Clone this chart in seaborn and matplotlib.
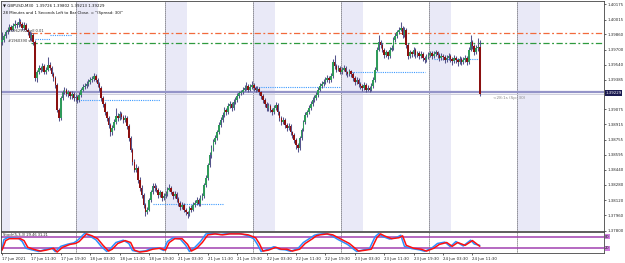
import matplotlib
matplotlib.use("Agg")
import matplotlib.pyplot as plt
import numpy as np
import pandas as pd
import seaborn as sns

sns.set_style("white")
plt.rcParams["font.family"] = ["DejaVu Sans"]

# GBPUSD M30 candles, 17 Jun 03:30 .. 24 Jun 14:00
open_ = [1.3978,
    1.3980, 1.3984, 1.3988, 1.3991, 1.3994, 1.3991, 1.3995, 1.3997, 1.3996, 1.3999,
    1.3997, 1.3993, 1.3996, 1.3991, 1.3988, 1.3982, 1.3985, 1.3978, 1.3940, 1.3946,
    1.3951, 1.3949, 1.3953, 1.3946, 1.3949, 1.3954, 1.3951, 1.3944, 1.3940, 1.3933,
    1.3907, 1.3898, 1.3919, 1.3925, 1.3928, 1.3923, 1.3925, 1.3921, 1.3923, 1.3919,
    1.3920, 1.3917, 1.3922, 1.3928, 1.3931, 1.3932, 1.3934, 1.3936, 1.3938, 1.3939,
    1.3942, 1.3938, 1.3934, 1.3930, 1.3919, 1.3913, 1.3904, 1.3898, 1.3891, 1.3883,
    1.3888, 1.3894, 1.3900, 1.3898, 1.3902, 1.3899, 1.3896, 1.3898, 1.3890, 1.3877,
    1.3865, 1.3852, 1.3844, 1.3846, 1.3833, 1.3825, 1.3817, 1.3807, 1.3799, 1.3802,
    1.3812, 1.3820, 1.3827, 1.3825, 1.3823, 1.3817, 1.3820, 1.3814, 1.3816, 1.3818,
    1.3823, 1.3825, 1.3820, 1.3816, 1.3818, 1.3813, 1.3809, 1.3805, 1.3807, 1.3802,
    1.3799, 1.3797, 1.3804, 1.3802, 1.3807, 1.3809, 1.3812, 1.3808, 1.3814, 1.3816,
    1.3828, 1.3835, 1.3849, 1.3859, 1.3867, 1.3873, 1.3877, 1.3883, 1.3891, 1.3896,
    1.3901, 1.3907, 1.3904, 1.3911, 1.3913, 1.3909, 1.3915, 1.3917, 1.3921, 1.3924,
    1.3925, 1.3928, 1.3930, 1.3932, 1.3928, 1.3931, 1.3933, 1.3930, 1.3928, 1.3929,
    1.3925, 1.3921, 1.3917, 1.3913, 1.3909, 1.3911, 1.3907, 1.3904, 1.3909, 1.3912,
    1.3904, 1.3898, 1.3894, 1.3896, 1.3891, 1.3888, 1.3890, 1.3883, 1.3880, 1.3875,
    1.3870, 1.3867, 1.3877, 1.3886, 1.3894, 1.3901, 1.3904, 1.3909, 1.3913, 1.3917,
    1.3919, 1.3922, 1.3928, 1.3932, 1.3934, 1.3936, 1.3938, 1.3940, 1.3938, 1.3942,
    1.3957, 1.3953, 1.3949, 1.3951, 1.3946, 1.3949, 1.3951, 1.3946, 1.3944, 1.3947,
    1.3944, 1.3940, 1.3936, 1.3938, 1.3934, 1.3932, 1.3930, 1.3933, 1.3928, 1.3930,
    1.3928, 1.3932, 1.3938, 1.3949, 1.3970, 1.3978, 1.3975, 1.3970, 1.3964, 1.3967,
    1.3963, 1.3970, 1.3972, 1.3980, 1.3984, 1.3988, 1.3991, 1.3993, 1.3985, 1.3991,
    1.3975, 1.3963, 1.3967, 1.3965, 1.3970, 1.3964, 1.3966, 1.3963, 1.3965, 1.3961,
    1.3959, 1.3962, 1.3964, 1.3966, 1.3963, 1.3965, 1.3967, 1.3964, 1.3961, 1.3963,
    1.3962, 1.3959, 1.3961, 1.3963, 1.3960, 1.3958, 1.3961, 1.3959, 1.3957, 1.3960,
    1.3957, 1.3959, 1.3961, 1.3957, 1.3970, 1.3978, 1.3974, 1.3967, 1.3972, 1.39726]

close_ = [
    1.3980, 1.3984, 1.3988, 1.3991, 1.3994, 1.3991, 1.3995, 1.3997, 1.3996, 1.3999,
    1.3997, 1.3993, 1.3996, 1.3991, 1.3988, 1.3982, 1.3985, 1.3978, 1.3940, 1.3946,
    1.3951, 1.3949, 1.3953, 1.3946, 1.3949, 1.3954, 1.3951, 1.3944, 1.3940, 1.3933,
    1.3907, 1.3898, 1.3919, 1.3925, 1.3928, 1.3923, 1.3925, 1.3921, 1.3923, 1.3919,
    1.3920, 1.3917, 1.3922, 1.3928, 1.3931, 1.3932, 1.3934, 1.3936, 1.3938, 1.3939,
    1.3942, 1.3938, 1.3934, 1.3930, 1.3919, 1.3913, 1.3904, 1.3898, 1.3891, 1.3883,
    1.3888, 1.3894, 1.3900, 1.3898, 1.3902, 1.3899, 1.3896, 1.3898, 1.3890, 1.3877,
    1.3865, 1.3852, 1.3844, 1.3846, 1.3833, 1.3825, 1.3817, 1.3807, 1.3799, 1.3802,
    1.3812, 1.3820, 1.3827, 1.3825, 1.3823, 1.3817, 1.3820, 1.3814, 1.3816, 1.3818,
    1.3823, 1.3825, 1.3820, 1.3816, 1.3818, 1.3813, 1.3809, 1.3805, 1.3807, 1.3802,
    1.3799, 1.3797, 1.3804, 1.3802, 1.3807, 1.3809, 1.3812, 1.3808, 1.3814, 1.3816,
    1.3828, 1.3835, 1.3849, 1.3859, 1.3867, 1.3873, 1.3877, 1.3883, 1.3891, 1.3896,
    1.3901, 1.3907, 1.3904, 1.3911, 1.3913, 1.3909, 1.3915, 1.3917, 1.3921, 1.3924,
    1.3925, 1.3928, 1.3930, 1.3932, 1.3928, 1.3931, 1.3933, 1.3930, 1.3928, 1.3929,
    1.3925, 1.3921, 1.3917, 1.3913, 1.3909, 1.3911, 1.3907, 1.3904, 1.3909, 1.3912,
    1.3904, 1.3898, 1.3894, 1.3896, 1.3891, 1.3888, 1.3890, 1.3883, 1.3880, 1.3875,
    1.3870, 1.3867, 1.3877, 1.3886, 1.3894, 1.3901, 1.3904, 1.3909, 1.3913, 1.3917,
    1.3919, 1.3922, 1.3928, 1.3932, 1.3934, 1.3936, 1.3938, 1.3940, 1.3938, 1.3942,
    1.3957, 1.3953, 1.3949, 1.3951, 1.3946, 1.3949, 1.3951, 1.3946, 1.3944, 1.3947,
    1.3944, 1.3940, 1.3936, 1.3938, 1.3934, 1.3932, 1.3930, 1.3933, 1.3928, 1.3930,
    1.3928, 1.3932, 1.3938, 1.3949, 1.3970, 1.3978, 1.3975, 1.3970, 1.3964, 1.3967,
    1.3963, 1.3970, 1.3972, 1.3980, 1.3984, 1.3988, 1.3991, 1.3993, 1.3985, 1.3991,
    1.3975, 1.3963, 1.3967, 1.3965, 1.3970, 1.3964, 1.3966, 1.3963, 1.3965, 1.3961,
    1.3959, 1.3962, 1.3964, 1.3966, 1.3963, 1.3965, 1.3967, 1.3964, 1.3961, 1.3963,
    1.3962, 1.3959, 1.3961, 1.3963, 1.3960, 1.3958, 1.3961, 1.3959, 1.3957, 1.3960,
    1.3957, 1.3959, 1.3961, 1.3957, 1.3970, 1.3978, 1.3974, 1.3967, 1.3972, 1.3973,
    1.39229]

high_ = [
    1.3988, 1.3986, 1.3991, 1.3994, 1.3997, 1.3996, 1.3998, 1.4001, 1.3999, 1.4003,
    1.4002, 1.3999, 1.3999, 1.3998, 1.3993, 1.3990, 1.3988, 1.3987, 1.3980, 1.3949,
    1.3954, 1.3953, 1.3956, 1.3955, 1.3952, 1.3962, 1.3957, 1.3953, 1.3946, 1.3942,
    1.3935, 1.3909, 1.3921, 1.3928, 1.3931, 1.3930, 1.3928, 1.3927, 1.3926, 1.3925,
    1.3923, 1.3922, 1.3925, 1.3930, 1.3934, 1.3935, 1.3937, 1.3939, 1.3941, 1.3942,
    1.3945, 1.3944, 1.3940, 1.3936, 1.3932, 1.3921, 1.3915, 1.3906, 1.3900, 1.3893,
    1.3891, 1.3897, 1.3909, 1.3903, 1.3905, 1.3904, 1.3901, 1.3901, 1.3900, 1.3892,
    1.3879, 1.3867, 1.3855, 1.3850, 1.3848, 1.3836, 1.3828, 1.3819, 1.3809, 1.3805,
    1.3814, 1.3823, 1.3830, 1.3830, 1.3828, 1.3825, 1.3823, 1.3822, 1.3819, 1.3821,
    1.3826, 1.3829, 1.3827, 1.3822, 1.3821, 1.3820, 1.3815, 1.3811, 1.3810, 1.3809,
    1.3804, 1.3801, 1.3806, 1.3807, 1.3810, 1.3812, 1.3815, 1.3814, 1.3817, 1.3819,
    1.3830, 1.3838, 1.3851, 1.3862, 1.3870, 1.3876, 1.3880, 1.3886, 1.3894, 1.3899,
    1.3904, 1.3910, 1.3909, 1.3914, 1.3916, 1.3915, 1.3918, 1.3920, 1.3924, 1.3927,
    1.3928, 1.3931, 1.3933, 1.3936, 1.3934, 1.3934, 1.3937, 1.3935, 1.3932, 1.3932,
    1.3931, 1.3927, 1.3923, 1.3919, 1.3915, 1.3914, 1.3913, 1.3909, 1.3912, 1.3915,
    1.3914, 1.3906, 1.3900, 1.3899, 1.3898, 1.3893, 1.3893, 1.3892, 1.3885, 1.3882,
    1.3877, 1.3872, 1.3879, 1.3888, 1.3896, 1.3904, 1.3907, 1.3912, 1.3916, 1.3920,
    1.3922, 1.3925, 1.3931, 1.3935, 1.3937, 1.3939, 1.3941, 1.3943, 1.3942, 1.3945,
    1.3960, 1.3964, 1.3955, 1.3954, 1.3953, 1.3952, 1.3954, 1.3953, 1.3948, 1.3950,
    1.3949, 1.3946, 1.3942, 1.3941, 1.3940, 1.3936, 1.3934, 1.3936, 1.3935, 1.3933,
    1.3932, 1.3935, 1.3941, 1.3952, 1.3973, 1.3985, 1.3980, 1.3977, 1.3972, 1.3970,
    1.3969, 1.3973, 1.3975, 1.3983, 1.3987, 1.3991, 1.3994, 1.3999, 1.3995, 1.3994,
    1.3993, 1.3977, 1.3970, 1.3969, 1.3973, 1.3972, 1.3969, 1.3968, 1.3968, 1.3967,
    1.3963, 1.3965, 1.3967, 1.3969, 1.3968, 1.3968, 1.3970, 1.3969, 1.3966, 1.3966,
    1.3965, 1.3964, 1.3964, 1.3966, 1.3965, 1.3962, 1.3964, 1.3963, 1.3961, 1.3963,
    1.3962, 1.3962, 1.3964, 1.3963, 1.3973, 1.3985, 1.3980, 1.3976, 1.3975, 1.3982,
    1.39802]

low_ = [
    1.3975, 1.3978, 1.3982, 1.3986, 1.3989, 1.3989, 1.3989, 1.3993, 1.3993, 1.3994,
    1.3995, 1.3991, 1.3991, 1.3989, 1.3985, 1.3980, 1.3979, 1.3975, 1.3937, 1.3936,
    1.3944, 1.3946, 1.3947, 1.3944, 1.3944, 1.3947, 1.3949, 1.3942, 1.3937, 1.3930,
    1.3904, 1.3895, 1.3896, 1.3917, 1.3923, 1.3921, 1.3920, 1.3918, 1.3918, 1.3916,
    1.3916, 1.3914, 1.3915, 1.3920, 1.3926, 1.3929, 1.3930, 1.3932, 1.3934, 1.3936,
    1.3937, 1.3936, 1.3931, 1.3927, 1.3916, 1.3910, 1.3901, 1.3895, 1.3888, 1.3879,
    1.3880, 1.3886, 1.3892, 1.3895, 1.3896, 1.3897, 1.3893, 1.3894, 1.3887, 1.3874,
    1.3862, 1.3849, 1.3841, 1.3841, 1.3830, 1.3822, 1.3814, 1.3804, 1.3795, 1.3797,
    1.3800, 1.3810, 1.3818, 1.3822, 1.3820, 1.3814, 1.3815, 1.3811, 1.3812, 1.3814,
    1.3816, 1.3821, 1.3818, 1.3813, 1.3814, 1.3810, 1.3806, 1.3802, 1.3803, 1.3799,
    1.3796, 1.3793, 1.3795, 1.3799, 1.3800, 1.3805, 1.3807, 1.3806, 1.3806, 1.3812,
    1.3814, 1.3826, 1.3833, 1.3847, 1.3856, 1.3864, 1.3871, 1.3875, 1.3881, 1.3889,
    1.3894, 1.3899, 1.3901, 1.3902, 1.3909, 1.3906, 1.3907, 1.3913, 1.3915, 1.3919,
    1.3922, 1.3923, 1.3926, 1.3928, 1.3925, 1.3926, 1.3929, 1.3927, 1.3925, 1.3926,
    1.3922, 1.3918, 1.3914, 1.3910, 1.3906, 1.3906, 1.3904, 1.3901, 1.3902, 1.3907,
    1.3901, 1.3895, 1.3891, 1.3892, 1.3888, 1.3885, 1.3886, 1.3880, 1.3877, 1.3872,
    1.3866, 1.3862, 1.3865, 1.3875, 1.3884, 1.3892, 1.3899, 1.3902, 1.3907, 1.3911,
    1.3915, 1.3917, 1.3920, 1.3926, 1.3930, 1.3932, 1.3934, 1.3936, 1.3935, 1.3936,
    1.3940, 1.3950, 1.3946, 1.3947, 1.3944, 1.3944, 1.3947, 1.3943, 1.3941, 1.3942,
    1.3941, 1.3937, 1.3933, 1.3934, 1.3931, 1.3929, 1.3927, 1.3928, 1.3925, 1.3926,
    1.3925, 1.3926, 1.3930, 1.3936, 1.3947, 1.3968, 1.3972, 1.3967, 1.3961, 1.3962,
    1.3960, 1.3961, 1.3968, 1.3970, 1.3978, 1.3982, 1.3986, 1.3989, 1.3982, 1.3983,
    1.3972, 1.3960, 1.3961, 1.3962, 1.3963, 1.3961, 1.3962, 1.3960, 1.3961, 1.3958,
    1.3956, 1.3957, 1.3960, 1.3962, 1.3960, 1.3961, 1.3963, 1.3961, 1.3958, 1.3959,
    1.3959, 1.3956, 1.3957, 1.3959, 1.3957, 1.3954, 1.3956, 1.3956, 1.3953, 1.3955,
    1.3954, 1.3955, 1.3957, 1.3954, 1.3955, 1.3968, 1.3971, 1.3964, 1.3965, 1.3969,
    1.39213]

# stochastic subwindow (main = blue, signal = red)
stoch_red_bar = [0, 2, 4, 10, 12, 14, 17, 21, 24, 28, 30, 33, 37, 40, 42, 46, 49, 52, 55, 58,
                 60, 63, 67, 70, 72, 75, 79, 82, 86, 89, 91, 94, 98, 101, 103, 106, 109, 112, 116, 120,
                 124, 130, 134, 138, 140, 142, 145, 149, 152, 155, 158, 162, 165, 169, 171, 173, 177, 180, 184, 189,
                 194, 198, 201, 204, 206, 208, 212, 216, 218, 220, 224, 228, 231, 235, 238, 242, 245, 248, 252, 256,
                 258, 260]
stoch_red_val = [10, 60, 70, 70, 60, 25, 15, 5, 10, 20, 0, 25, 40, 45, 55, 95, 85, 70, 35, 5,
                 15, 45, 60, 50, 10, 0, 5, 15, 20, 10, 50, 70, 70, 40, 5, 20, 50, 90, 95, 90,
                 95, 95, 90, 75, 45, 5, 10, 25, 15, 15, 5, 15, 45, 70, 85, 90, 95, 90, 70, 45,
                 5, 10, 15, 75, 95, 85, 70, 75, 85, 35, 20, 15, 5, 20, 40, 50, 30, 50, 35, 60,
                 45, 30]
stoch_blue_bar = [0, 1, 3, 9, 11, 13, 16, 20, 23, 27, 29, 32, 36, 39, 41, 45, 48, 51, 54, 57,
                  59, 62, 66, 69, 71, 74, 78, 81, 85, 88, 90, 93, 97, 100, 102, 105, 108, 111, 115, 119,
                  123, 129, 133, 137, 139, 141, 144, 148, 151, 154, 157, 161, 164, 168, 170, 172, 176, 179, 183, 188,
                  193, 197, 200, 203, 205, 207, 211, 215, 217, 219, 223, 227, 230, 234, 237, 241, 244, 247, 251, 255,
                  257, 260]
stoch_blue_val = [12, 65, 75, 72, 55, 20, 12, 3, 12, 22, 2, 30, 42, 48, 60, 98, 82, 65, 30, 3,
                  18, 50, 62, 45, 8, 2, 6, 18, 22, 8, 55, 74, 68, 35, 3, 25, 55, 95, 98, 92,
                  97, 97, 88, 70, 40, 3, 12, 28, 14, 12, 4, 18, 50, 75, 88, 93, 97, 88, 65, 40,
                  3, 12, 18, 80, 97, 82, 68, 78, 88, 30, 18, 12, 4, 22, 45, 52, 28, 55, 32, 62,
                  42, 35]

tick_bars = [0, 16, 32, 48, 64, 80, 96, 112, 128, 144, 160, 176, 192, 208, 224, 240, 256]
tick_labels = ["17 Jun 2021", "17 Jun 11:30", "17 Jun 19:30", "18 Jun 03:30", "18 Jun 11:30",
               "18 Jun 19:30", "21 Jun 03:30", "21 Jun 11:30", "21 Jun 19:30", "22 Jun 03:30",
               "22 Jun 11:30", "22 Jun 19:30", "23 Jun 03:30", "23 Jun 11:30", "23 Jun 19:30",
               "24 Jun 03:30", "24 Jun 11:30"]
price_ticks = [1.40175, 1.40015, 1.39860, 1.39700, 1.39540, 1.39385, 1.39075, 1.38915,
               1.38755, 1.38595, 1.38440, 1.38280, 1.38120, 1.37960, 1.37800]

day_starts = [40.5, 88.5, 136.5, 184.5, 232.5, 280.5]
asia_bands = [(-0.6, 4.5), (40.5, 52.5), (88.5, 100.5), (136.5, 148.5), (184.5, 196.5),
              (232.5, 244.5), (280.5, 292.5)]
# short dotted daily levels: (start bar, end bar, price)
day_levels = [(18, 26, 1.3981), (26, 38, 1.3985), (40, 86, 1.3917), (82, 120, 1.3808),
              (136, 184, 1.3931), (189, 230, 1.3946), (235, 260, 1.3960)]
order_lines = [(1.39874, "#f26a3c", "#1962902 sell 0.01"), (1.39769, "#2e9a3e", "#1960390 sl")]
ask_price = 1.39259
bid_price = 1.39229

fig = plt.figure(figsize=(6.25, 2.63), dpi=100)
ax = fig.add_axes([1 / 625, 32 / 263, 603 / 625, 230 / 263])
sax = fig.add_axes([1 / 625, 10 / 263, 603 / 625, 21 / 263])

for a, b in asia_bands:
    ax.axvspan(a, b, color="#e9e9f7", lw=0, zorder=0)
for d in day_starts:
    for a_ in (ax, sax):
        a_.axvline(d, color="#202020", lw=0.6, ls=(0, (1, 1.4)), zorder=1)

for p, col, lab in order_lines:
    ax.plot([16, 330], [p, p], color=col, lw=0.9, ls=(0, (5, 2, 1.5, 2)), zorder=2)
    ax.text(3, p + 0.00003, lab, fontsize=2.6, color="#333333", va="bottom", zorder=5)
for s, e, p in day_levels:
    ax.plot([s, e], [p, p], color="#3d9bff", lw=0.8, ls=(0, (1, 1)), zorder=2)

ax.axhline(ask_price, color="#9494c8", lw=1.6, zorder=2)
ax.axhline(bid_price, color="#cfcfdc", lw=0.7, zorder=2)

o = np.array(open_)
c = np.array(close_)
h = np.array(high_)
l = np.array(low_)
x = np.arange(len(c))
up = c >= o
ax.vlines(x, l, h, colors="#55558c", lw=0.75, zorder=3)
ax.bar(x[up], np.maximum(c[up] - o[up], 0.00003), bottom=o[up], width=0.85,
       color="#2f9a5a", lw=0, zorder=4)
ax.bar(x[~up], np.maximum(o[~up] - c[~up], 0.00003), bottom=c[~up], width=0.85,
       color="#8b1010", lw=0, zorder=4)

ax.set_xlim(-0.55, 327.6)
ax.set_ylim(1.37795, 1.40210)
ax.yaxis.tick_right()
ax.set_yticks(price_ticks)
ax.set_yticklabels(["%.5f" % v for v in price_ticks])
ax.tick_params(axis="y", labelsize=2.8, length=1.5, width=0.5, pad=1, right=True)
ax.set_xticks([])

ax.text(1.002, (ask_price + bid_price) / 2, "%.5f" % bid_price, transform=ax.get_yaxis_transform(),
        fontsize=2.8, color="white", va="center", ha="left",
        bbox=dict(boxstyle="square,pad=0.15", fc="#1a1a50", ec="none"))
ax.text(0.004, 0.988, "\u25bc GBPUSD,M30  1.39726 1.39802 1.39213 1.39229", transform=ax.transAxes,
        fontsize=2.8, va="top", ha="left", color="#111111")
ax.text(0.004, 0.955, "28 Minutes and 1 Seconds Left to Bar Close. = \"(Spread: 30)\"",
        transform=ax.transAxes, fontsize=2.8, va="top", ha="left", color="#111111")
ax.text(267, bid_price - 0.0004, "<28:1s (Sp: 30)", fontsize=3.0, color="#8a8a8a", va="center")

stoch = pd.DataFrame({"bar": stoch_blue_bar, "val": stoch_blue_val})
sns.lineplot(data=stoch, x="bar", y="val", ax=sax, color="#2b8fff", lw=1.1)
stoch_sig = pd.DataFrame({"bar": stoch_red_bar, "val": stoch_red_val})
sns.lineplot(data=stoch_sig, x="bar", y="val", ax=sax, color="#ff1010", lw=1.1)
for lvl in (80, 20):
    sax.axhline(lvl, color="#a040b0", lw=1.1, zorder=1)
sax.set_xlim(-0.55, 327.6)
sax.set_ylim(-5, 105)
sax.set_xlabel("")
sax.set_ylabel("")
sax.set_yticks([])
sax.set_xticks(tick_bars)
sax.set_xticklabels(tick_labels, ha="left")
sax.tick_params(axis="x", labelsize=2.8, length=1.5, width=0.5, pad=1.5, bottom=True)
sax.text(0.004, 0.93, "Stoch(5,3,3) 29.46 31.21", transform=sax.transAxes, fontsize=2.6,
         va="top", color="#222222")
for lvl, lab in ((80, "80"), (20, "20")):
    sax.text(1.002, lvl, lab, transform=sax.get_yaxis_transform(), fontsize=2.6, color="#222222",
             va="center", ha="left", bbox=dict(boxstyle="square,pad=0.1", fc="#d080e0", ec="none"))

for a_ in (ax, sax):
    for sp in a_.spines.values():
        sp.set_color("#444444")
        sp.set_linewidth(0.6)

fig.savefig("out.png", dpi=100)
